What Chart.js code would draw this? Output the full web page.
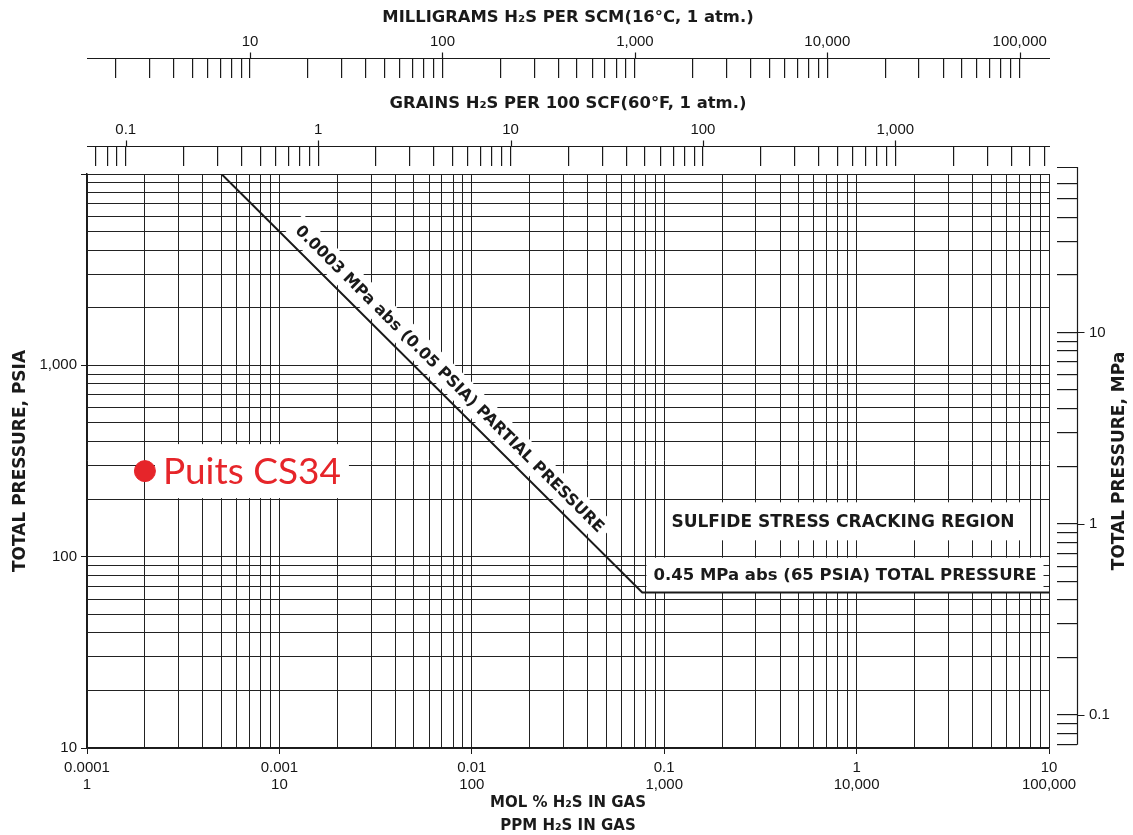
<!DOCTYPE html>
<html>
<head>
<meta charset="utf-8">
<title>Sulfide stress cracking region - H2S</title>
<script src="https://cdn.jsdelivr.net/npm/chart.js@4.4.1/dist/chart.umd.min.js"></script>
<style>
  html, body { margin: 0; padding: 0; background: #fff; }
</style>
</head>
<body>
<canvas id="sscChart" width="1133" height="835"></canvas>
<script>
// bottom axis: mol % H2S and ppm H2S in gas
var molDecades = [0.0001, 0.001, 0.01, 0.1, 1, 10];
var molLabels = ['0.0001', '0.001', '0.01', '0.1', '1', '10'];
var ppmLabels = ['1', '10', '100', '1,000', '10,000', '100,000'];

// left axis: total pressure, psia
var psiaDecades = [10, 100, 1000, 10000];
var psiaLabels = ['10', '100', '1,000', ''];

var mpaRange = [0.0673, 67.3];
var mpaDecades = [0.1, 1, 10];
var mpaLabels = ['0.1', '1', '10'];

// top axes
var mgPerPpm = 1.42;        // mg H2S per SCM for 1 ppm
var ppmPerGrain = 15.9;     // ppm for 1 grain per 100 SCF
var mgDecades = [10, 100, 1000, 10000, 100000];
var mgLabels = ['10', '100', '1,000', '10,000', '100,000'];
var grainDecades = [0.1, 1, 10, 100, 1000];
var grainLabels = ['0.1', '1', '10', '100', '1,000'];

// 0.05 psia partial pressure line, then 65 psia total pressure
var limitMol = [0.0005, 0.0769, 10];
var limitPsia = [10000, 65, 65];

// the well
var wellMol = [0.0002];
var wellPsia = [280];
var wellName = 'Puits CS34';

var ink = '#1a1a1a';
var gridInk = '#222';
var red = '#e6252a';
var boldFont = '"DejaVu Sans", Verdana, sans-serif';
var numFont = '"Liberation Sans", Arial, sans-serif';

function logTicks(min, max) {
    var out = [];
    var e0 = Math.floor(Math.log10(min)), e1 = Math.ceil(Math.log10(max));
    for (var e = e0; e <= e1; e++) {
        for (var k = 1; k <= 9; k++) {
            var v = parseFloat((k * Math.pow(10, e)).toPrecision(6));
            if (v >= min * 0.9999 && v <= max * 1.0001) out.push({value: v, major: k === 1});
        }
    }
    return out;
}

function findLabel(v, decs, labels) {
    for (var i = 0; i < decs.length; i++) {
        if (Math.abs(v / decs[i] - 1) < 1e-6) return labels[i];
    }
    return '';
}

function majorOnly(c) {
    return c.tick && c.tick.major ? ink : 'rgba(0,0,0,0)';
}

var numTicks = {autoSkip: false, maxRotation: 0, color: '#151515', font: {family: numFont, size: 15, lineHeight: 1.1}};
var axisTitle = {display: true, color: '#1a1a1a', font: {family: boldFont, size: 16.4, weight: 'bold'}};

function pts(xs, ys) {
    var a = [];
    for (var i = 0; i < xs.length; i++) a.push({x: xs[i], y: ys[i]});
    return a;
}

// white boxes under the notes, then the notes themselves
var notesPlugin = {
    id: 'notes',
    beforeDatasetsDraw: function(chart) {
        var ctx = chart.ctx;
        ctx.save();
        ctx.fillStyle = '#fff';
        getNotes(chart).forEach(function(n) {
            ctx.save();
            ctx.translate(n.x, n.y);
            ctx.rotate(n.angle);
            ctx.font = n.font;
            var w = ctx.measureText(n.text).width;
            var bx = n.align === 'left' ? -n.padX : -w / 2 - n.padX;
            ctx.fillRect(bx, -n.boxH / 2, w + 2 * n.padX, n.boxH);
            ctx.restore();
        });
        ctx.restore();
    },
    afterDatasetsDraw: function(chart) {
        var ctx = chart.ctx;
        getNotes(chart).forEach(function(n) {
            ctx.save();
            ctx.translate(n.x, n.y);
            ctx.rotate(n.angle);
            ctx.font = n.font;
            ctx.fillStyle = n.color;
            ctx.textAlign = n.align;
            ctx.textBaseline = 'middle';
            ctx.fillText(n.text, 0, 1);
            ctx.restore();
        });
    },
    afterDraw: function(chart) {
        var ctx = chart.ctx;
        ctx.save();
        ctx.strokeStyle = ink;
        ctx.lineWidth = 1.2;
        // top scales: line above the tick marks, decade ticks poke through
        ['grains', 'mg'].forEach(function(id) {
            var s = chart.scales[id];
            var ly = Math.round(s.bottom - s.options.grid.tickLength) + 0.5;
            ctx.beginPath();
            ctx.moveTo(chart.chartArea.left, ly);
            ctx.lineTo(chart.chartArea.right + 1, ly);
            s.ticks.forEach(function(t) {
                if (!t.major) return;
                var px = Math.round(s.getPixelForValue(t.value)) + 0.5;
                ctx.moveTo(px, ly - 6);
                ctx.lineTo(px, ly);
            });
            ctx.stroke();
        });
        // right MPa scale
        var m = chart.scales.mpa;
        var lx = Math.round(m.left + m.options.grid.tickLength) + 0.5;
        var bottomTick = m.getPixelForValue(m.ticks[0].value);
        ctx.beginPath();
        ctx.moveTo(m.left, m.top - 6.5);
        ctx.lineTo(lx, m.top - 6.5);
        ctx.lineTo(lx, bottomTick);
        m.ticks.forEach(function(t) {
            if (!t.major) return;
            var py = Math.round(m.getPixelForValue(t.value)) + 0.5;
            ctx.moveTo(lx, py);
            ctx.lineTo(lx + 7, py);
        });
        ctx.stroke();
        // right title reads bottom to top like the left one
        ctx.translate(1120, (chart.chartArea.top + chart.chartArea.bottom) / 2);
        ctx.rotate(-Math.PI / 2);
        ctx.font = 'bold 17px ' + boldFont;
        ctx.fillStyle = '#1a1a1a';
        ctx.textAlign = 'center';
        ctx.textBaseline = 'middle';
        ctx.fillText('TOTAL PRESSURE, MPa', 0, 0);
        ctx.restore();
    }
};

function getNotes(chart) {
    var xs = chart.scales.x, ys = chart.scales.y;
    var p0x = xs.getPixelForValue(limitMol[0]), p0y = ys.getPixelForValue(limitPsia[0]);
    var p1x = xs.getPixelForValue(limitMol[1]), p1y = ys.getPixelForValue(limitPsia[1]);
    var dx = p1x - p0x, dy = p1y - p0y, len = Math.sqrt(dx * dx + dy * dy);
    var ux = dx / len, uy = dy / len;
    var t = 0.516 * len, off = 16;
    var wx = xs.getPixelForValue(wellMol[0]), wy = ys.getPixelForValue(wellPsia[0]);
    return [
        {text: '0.0003 MPa abs (0.05 PSIA) PARTIAL PRESSURE', font: 'bold 16px ' + boldFont, color: '#1a1a1a',
         x: p0x + ux * t + uy * off, y: p0y + uy * t - ux * off, angle: Math.atan2(dy, dx),
         align: 'center', padX: 6, boxH: 26},
        {text: 'SULFIDE STRESS CRACKING REGION', font: 'bold 17px ' + boldFont, color: '#1a1a1a',
         x: xs.getPixelForValue(0.85), y: ys.getPixelForValue(153), angle: 0,
         align: 'center', padX: 6, boxH: 38},
        {text: '0.45 MPa abs (65 PSIA) TOTAL PRESSURE', font: 'bold 16.5px ' + boldFont, color: '#1a1a1a',
         x: xs.getPixelForValue(0.87), y: ys.getPixelForValue(80), angle: 0,
         align: 'center', padX: 7, boxH: 35},
        {text: wellName, font: '37px Lato, "Noto Sans", sans-serif', color: red,
         x: wx + 18, y: wy, angle: 0, align: 'left', padX: 8, boxH: 54}
    ];
}

var ctx = document.getElementById('sscChart').getContext('2d');
var chart = new Chart(ctx, {
    type: 'scatter',
    data: {
        datasets: [
            {
                label: 'limit',
                data: pts(limitMol, limitPsia),
                showLine: true,
                borderColor: ink,
                borderWidth: 2,
                pointRadius: 0,
                xAxisID: 'x',
                yAxisID: 'y'
            },
            {
                label: wellName,
                data: pts(wellMol, wellPsia),
                pointRadius: 10.5,
                backgroundColor: red,
                borderColor: red,
                xAxisID: 'x',
                yAxisID: 'y'
            }
        ]
    },
    options: {
        responsive: false,
        animation: false,
        devicePixelRatio: 1,
        layout: {padding: 0},
        plugins: {legend: {display: false}, tooltip: {enabled: false}},
        scales: {
            x: {
                type: 'logarithmic', position: 'bottom', min: molDecades[0], max: molDecades[molDecades.length - 1],
                afterBuildTicks: function(s) { s.ticks = logTicks(s.min, s.max); },
                afterFit: function(s) { s.height = 87; },
                grid: {color: gridInk, lineWidth: 1, tickLength: 6, tickColor: majorOnly},
                border: {color: ink, width: 1.5},
                ticks: Object.assign({}, numTicks, {padding: 6, callback: function(v) {
                    var m = findLabel(v, molDecades, molLabels);
                    return m ? [m, findLabel(v, molDecades, ppmLabels)] : '';
                }}),
                title: Object.assign({}, axisTitle, {text: ['MOL % H\u2082S IN GAS', 'PPM H\u2082S IN GAS'],
                    font: {family: boldFont, size: 15, weight: 'bold', lineHeight: 1.5}, padding: {top: 0, bottom: -2}})
            },
            y: {
                type: 'logarithmic', position: 'left', min: psiaDecades[0], max: psiaDecades[psiaDecades.length - 1],
                afterBuildTicks: function(s) { s.ticks = logTicks(s.min, s.max); },
                afterFit: function(s) { s.width = 87; },
                grid: {color: gridInk, lineWidth: 1, tickLength: 6, tickColor: majorOnly},
                border: {color: ink, width: 1.5},
                ticks: Object.assign({}, numTicks, {padding: 4, callback: function(v) {
                    return findLabel(v, psiaDecades, psiaLabels);
                }}),
                title: Object.assign({}, axisTitle, {text: 'TOTAL PRESSURE, PSIA',
                    font: {family: boldFont, size: 17, weight: 'bold'}, padding: {top: 10, bottom: 0}})
            },
            yGap: {
                type: 'linear', position: 'right', weight: 0,
                grid: {display: false}, border: {display: false}, ticks: {display: false},
                afterFit: function(s) { s.width = 8; }
            },
            mpa: {
                type: 'logarithmic', position: 'right', weight: 1, min: mpaRange[0], max: mpaRange[1],
                afterBuildTicks: function(s) { s.ticks = logTicks(0.07, 60); },
                afterFit: function(s) { s.width = 76; },
                grid: {drawOnChartArea: false, tickLength: 20, tickColor: ink, lineWidth: 1.2},
                border: {display: false},
                ticks: Object.assign({}, numTicks, {padding: 12, callback: function(v) {
                    return findLabel(v, mpaDecades, mpaLabels);
                }})
            },
            xGap: {
                type: 'linear', position: 'top', weight: 0,
                grid: {display: false}, border: {display: false}, ticks: {display: false},
                afterFit: function(s) { s.height = 8; }
            },
            grains: {
                type: 'logarithmic', position: 'top', weight: 1,
                min: molDecades[0] * 1e4 / ppmPerGrain, max: molDecades[molDecades.length - 1] * 1e4 / ppmPerGrain,
                afterBuildTicks: function(s) { s.ticks = logTicks(s.min, s.max); },
                afterFit: function(s) { s.height = 88; },
                grid: {drawOnChartArea: false, tickLength: 20, tickColor: ink, lineWidth: 1.2},
                border: {display: false},
                ticks: Object.assign({}, numTicks, {padding: 8, callback: function(v) {
                    return findLabel(v, grainDecades, grainLabels);
                }}),
                title: Object.assign({}, axisTitle, {text: 'GRAINS H\u2082S PER 100 SCF(60\u00b0F, 1 atm.)', padding: {top: 16, bottom: 0}})
            },
            mg: {
                type: 'logarithmic', position: 'top', weight: 2,
                min: molDecades[0] * 1e4 * mgPerPpm, max: molDecades[molDecades.length - 1] * 1e4 * mgPerPpm,
                afterBuildTicks: function(s) { s.ticks = logTicks(s.min, s.max); },
                afterFit: function(s) { s.height = 78; },
                grid: {drawOnChartArea: false, tickLength: 20, tickColor: ink, lineWidth: 1.2},
                border: {display: false},
                ticks: Object.assign({}, numTicks, {padding: 8, callback: function(v) {
                    return findLabel(v, mgDecades, mgLabels);
                }}),
                title: Object.assign({}, axisTitle, {text: 'MILLIGRAMS H\u2082S PER SCM(16\u00b0C, 1 atm.)', padding: {top: 8, bottom: 0}})
            }
        }
    },
    plugins: [notesPlugin]
});
</script>
</body>
</html>
